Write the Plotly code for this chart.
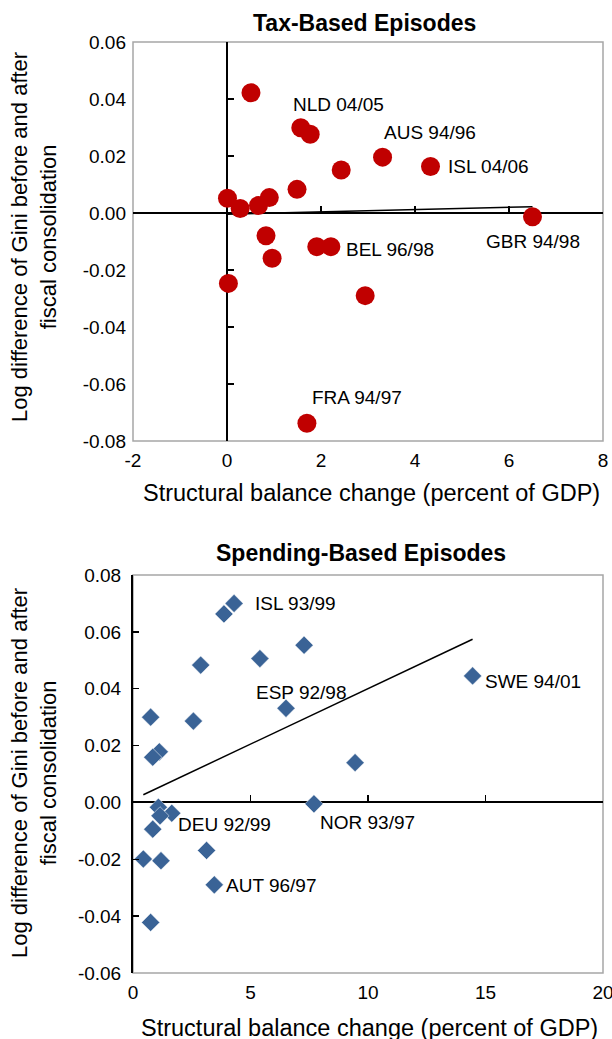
import plotly.graph_objects as go

# ---------------- data ----------------
tax_x = [0.51, 1.57, 1.77, 3.31, 4.33, 2.43, 1.49, 0.01, 0.28, 0.67, 0.90, 6.50,
         0.83, 1.91, 2.21, 0.96, 0.03, 2.94, 1.70]
tax_y = [0.0422, 0.0299, 0.0276, 0.0196, 0.0163, 0.0151, 0.0083, 0.0052, 0.0016, 0.0026, 0.0054, -0.0013,
         -0.0080, -0.0118, -0.0118, -0.0159, -0.0247, -0.0290, -0.0738]
tax_trend_x = [0.0, 6.5]
tax_trend_y = [-0.0004, 0.0022]
tax_labels = ["NLD 04/05", "AUS 94/96", "ISL 04/06", "GBR 94/98", "BEL 96/98", "FRA 94/97"]
tax_label_x = [1.36, 3.30, 4.66, 5.46, 2.48, 1.77]
tax_label_y = [0.0382, 0.0281, 0.0162, -0.0100, -0.0127, -0.0648]

spend_x = [4.30, 3.87, 7.28, 5.40, 2.88, 14.45, 6.51, 0.75, 2.57, 1.12, 0.84, 9.45,
           7.70, 1.08, 1.65, 1.15, 0.84, 3.13, 0.44, 1.19, 3.46, 0.75]
spend_y = [0.0700, 0.0663, 0.0553, 0.0506, 0.0483, 0.0445, 0.0331, 0.0300, 0.0286, 0.0178, 0.0159, 0.0140,
           -0.0005, -0.0017, -0.0038, -0.0047, -0.0094, -0.0169, -0.0199, -0.0205, -0.0290, -0.0422]
spend_trend_x = [0.44, 14.45]
spend_trend_y = [0.0027, 0.0574]
spend_labels = ["ISL 93/99", "SWE 94/01", "ESP 92/98", "DEU 92/99", "NOR 93/97", "AUT 96/97"]
spend_label_x = [5.12, 14.88, 5.15, 1.83, 7.89, 3.89]
spend_label_y = [0.0700, 0.0425, 0.0386, -0.0079, -0.0069, -0.0291]

tax_xticks = [-2, 0, 2, 4, 6, 8]
tax_xticktext = ["-2", "0", "2", "4", "6", "8"]
tax_yticks = [-0.08, -0.06, -0.04, -0.02, 0.0, 0.02, 0.04, 0.06]
tax_yticktext = ["-0.08", "-0.06", "-0.04", "-0.02", "0.00", "0.02", "0.04", "0.06"]
spend_xticks = [0, 5, 10, 15, 20]
spend_xticktext = ["0", "5", "10", "15", "20"]
spend_yticks = [-0.06, -0.04, -0.02, 0.0, 0.02, 0.04, 0.06, 0.08]
spend_yticktext = ["-0.06", "-0.04", "-0.02", "0.00", "0.02", "0.04", "0.06", "0.08"]

title_tax = "Tax-Based Episodes"
title_spend = "Spending-Based Episodes"
x_title = "Structural balance change (percent of GDP)"
y_title = "Log difference of Gini before and after<br>fiscal consolidation"

# ---------------- layout geometry ----------------
W, H = 612, 1039
FONT = "Arial, Liberation Sans, sans-serif"
RED = "#C00000"
BLUE = "#3A6396"
GRAY = "#A6A6A6"

xdom = [133 / W, 603 / W]
top_dom = [1 - 441 / H, 1 - 42 / H]
bot_dom = [1 - 973 / H, 1 - 575 / H]
tax_xr = [-2, 8]
tax_yr = [-0.08, 0.06]
spend_xr = [0, 20]
spend_yr = [-0.06, 0.08]


def frac(v, r):
    return (v - r[0]) / (r[1] - r[0])


tax_zero_ypos = top_dom[0] + frac(0, tax_yr) * (top_dom[1] - top_dom[0])
tax_zero_xpos = xdom[0] + frac(0, tax_xr) * (xdom[1] - xdom[0])
spend_zero_ypos = bot_dom[0] + frac(0, spend_yr) * (bot_dom[1] - bot_dom[0])

fig = go.Figure()

# trend lines (base subplots)
fig.add_trace(go.Scatter(x=tax_trend_x, y=tax_trend_y, mode="lines",
                         line=dict(color="black", width=1.5), xaxis="x", yaxis="y",
                         showlegend=False, hoverinfo="skip"))
fig.add_trace(go.Scatter(x=spend_trend_x, y=spend_trend_y, mode="lines",
                         line=dict(color="black", width=1.5), xaxis="x2", yaxis="y2",
                         showlegend=False, hoverinfo="skip"))
# markers (overlay subplots, above the zero axes)
fig.add_trace(go.Scatter(x=tax_x, y=tax_y, mode="markers",
                         marker=dict(symbol="circle", size=19, color=RED, line=dict(width=0)),
                         xaxis="x3", yaxis="y3", showlegend=False, cliponaxis=False))
fig.add_trace(go.Scatter(x=spend_x, y=spend_y, mode="markers",
                         marker=dict(symbol="diamond", size=14, color=BLUE,
                                     line=dict(width=0.5, color="white")),
                         xaxis="x4", yaxis="y2", showlegend=False, cliponaxis=False))

tick_font = dict(family=FONT, size=19, color="black")

base_axis = dict(showgrid=False, zeroline=False, ticks="", showline=False,
                 tickfont=tick_font, automargin=False, fixedrange=True,
                 ticklabeloverflow="allow")
zero_axis = dict(showgrid=False, zeroline=False, ticks="inside", ticklen=6, tickwidth=1.5,
                 tickcolor="black", showline=True, linecolor="black", linewidth=2,
                 showticklabels=False, anchor="free", layer="below traces", fixedrange=True)

fig.update_layout(
    width=W, height=H,
    margin=dict(l=0, r=0, t=0, b=0),
    paper_bgcolor="white", plot_bgcolor="white",
    font=dict(family=FONT, color="black"),
    xaxis=dict(base_axis, domain=xdom, range=tax_xr, tickvals=tax_xticks, ticktext=tax_xticktext,
               anchor="y", ticklabelstandoff=6),
    yaxis=dict(base_axis, domain=top_dom, range=tax_yr, tickvals=tax_yticks, ticktext=tax_yticktext,
               anchor="x", ticklabelstandoff=6),
    xaxis2=dict(base_axis, domain=xdom, range=spend_xr, tickvals=spend_xticks, ticktext=spend_xticktext,
                anchor="y2", ticklabelstandoff=6),
    yaxis2=dict(base_axis, domain=bot_dom, range=spend_yr, tickvals=spend_yticks, ticktext=spend_yticktext,
                anchor="x2", ticklabelstandoff=6, showline=True, linecolor="black", linewidth=2,
                ticks="inside", ticklen=6, tickwidth=1.5, tickcolor="black"),
    xaxis3=dict(zero_axis, overlaying="x", range=tax_xr, tickvals=tax_xticks, position=tax_zero_ypos),
    yaxis3=dict(zero_axis, overlaying="y", range=tax_yr, tickvals=tax_yticks, position=tax_zero_xpos),
    xaxis4=dict(zero_axis, overlaying="x2", range=spend_xr, tickvals=spend_xticks, position=spend_zero_ypos),
)

# plot borders
for xr_, yr_ in [("x domain", "y domain"), ("x2 domain", "y2 domain")]:
    fig.add_shape(type="rect", xref=xr_, yref=yr_, x0=0, x1=1, y0=0, y1=1,
                  line=dict(color=GRAY, width=1.5), layer="below")

lab_font = dict(family=FONT, size=19, color="black")
for t, lx, ly in zip(tax_labels, tax_label_x, tax_label_y):
    fig.add_annotation(text=t, x=lx, y=ly, xref="x", yref="y", xanchor="left", yanchor="middle",
                       showarrow=False, font=lab_font)
for t, lx, ly in zip(spend_labels, spend_label_x, spend_label_y):
    fig.add_annotation(text=t, x=lx, y=ly, xref="x2", yref="y2", xanchor="left", yanchor="middle",
                       showarrow=False, font=lab_font)

# titles
title_font = dict(family=FONT, size=23, color="black")
fig.add_annotation(text="<b>%s</b>" % title_tax, x=364 / W, y=1 - 23 / H, xref="paper", yref="paper",
                   xanchor="center", yanchor="middle", showarrow=False, font=title_font)
fig.add_annotation(text="<b>%s</b>" % title_spend, x=361 / W, y=1 - 553 / H, xref="paper", yref="paper",
                   xanchor="center", yanchor="middle", showarrow=False, font=title_font)

axt_font = dict(family=FONT, size=23.5, color="black")
fig.add_annotation(text=x_title, x=372 / W, y=1 - 493 / H, xref="paper", yref="paper",
                   xanchor="center", yanchor="middle", showarrow=False, font=axt_font)
fig.add_annotation(text=x_title, x=369 / W, y=1 - 1028 / H, xref="paper", yref="paper",
                   xanchor="center", yanchor="middle", showarrow=False, font=axt_font)

yt_font = dict(family=FONT, size=22, color="black")
fig.add_annotation(text=y_title, x=34 / W, y=1 - 237 / H, xref="paper", yref="paper",
                   xanchor="center", yanchor="middle", textangle=-90, showarrow=False, font=yt_font)
fig.add_annotation(text=y_title, x=34 / W, y=1 - 773 / H, xref="paper", yref="paper",
                   xanchor="center", yanchor="middle", textangle=-90, showarrow=False, font=yt_font)

fig.write_html("out.html",
               config={"displayModeBar": False, "staticPlot": True},
               post_script="document.body.style.margin='0';document.body.style.overflow='hidden';")
